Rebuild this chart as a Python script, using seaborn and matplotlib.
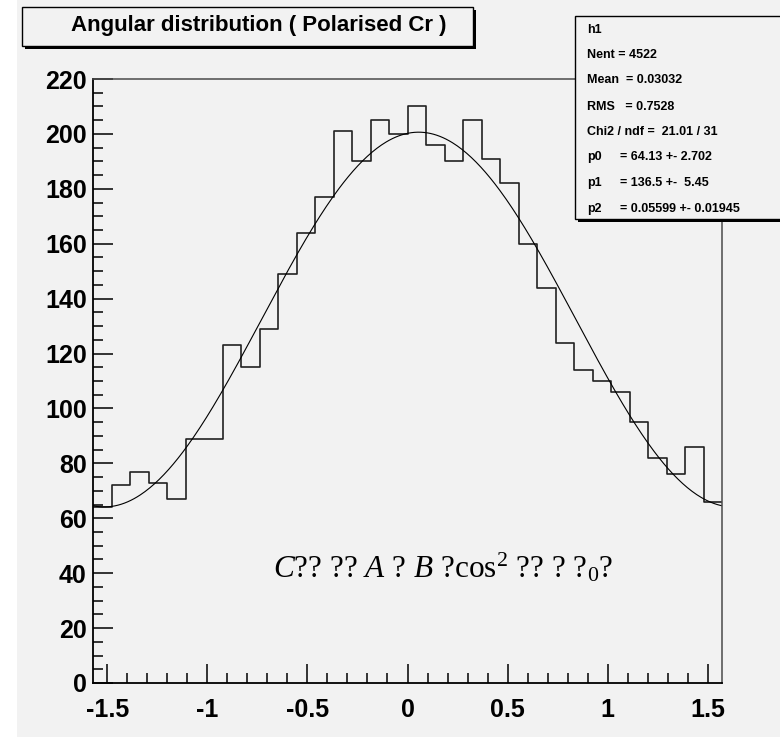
import numpy as np
import pandas as pd
import matplotlib
matplotlib.use("Agg")
import matplotlib.pyplot as plt
import seaborn as sns
from matplotlib.patches import Rectangle
from matplotlib.ticker import MultipleLocator

# ---------------- data ----------------
counts = [64, 72, 77, 73, 67, 89, 89, 123, 115, 129,
          149, 164, 177, 201, 190, 205, 200, 210, 196, 190,
          205, 191, 182, 160, 144, 124, 114, 110, 106, 95,
          82, 76, 86, 66]
x_min, x_max = -np.pi / 2, np.pi / 2
fit_p0, fit_p1, fit_p2 = 64.13, 136.5, 0.05599
title = "Angular distribution ( Polarised Cr )"
stats_names = ["h1", "Nent = 4522", "Mean  = 0.03032", "RMS   = 0.7528",
               "Chi2 / ndf =  21.01 / 31", "p0", "p1", "p2"]
stats_values = ["", "", "", "", "", "= 64.13 +- 2.702", "= 136.5 +-  5.45",
                "= 0.05599 +- 0.01945"]
x_ticks = [-1.5, -1, -0.5, 0, 0.5, 1, 1.5]
x_tick_labels = ["-1.5", "-1", "-0.5", "0", "0.5", "1", "1.5"]
y_ticks = [0, 20, 40, 60, 80, 100, 120, 140, 160, 180, 200, 220]
y_tick_labels = [str(v) for v in y_ticks]
formula = r"$C$?? ?? $A$ ? $B$ ?cos$^{2}$ ?? ? ?$_0$?"

# ---------------- style ----------------
W, H = 780, 737
bg = "#f2f2f2"
plt.rcParams["axes.unicode_minus"] = False
plt.rcParams["font.family"] = ["Liberation Sans", "DejaVu Sans"]
plt.rcParams["mathtext.fontset"] = "custom"
plt.rcParams["mathtext.rm"] = "Liberation Serif"
plt.rcParams["mathtext.it"] = "Liberation Serif:italic"


def fx(x):
    return x / W


def fy(y):
    return 1 - y / H


fig = plt.figure(figsize=(W / 100, H / 100), dpi=100, facecolor="white")
fig.patches.append(Rectangle((fx(17), 0), 1, 1, transform=fig.transFigure,
                             facecolor=bg, edgecolor="none", zorder=-10))

ax = fig.add_axes([fx(93), fy(683), (722 - 93) / W, (683 - 79) / H])
ax.set_facecolor(bg)

n_bins = len(counts)
bin_w = (x_max - x_min) / n_bins
centers = x_min + bin_w * (np.arange(n_bins) + 0.5)
hist_df = pd.DataFrame({"theta": centers, "count": counts})
sns.histplot(data=hist_df, x="theta", weights="count", bins=n_bins,
             binrange=(x_min, x_max), element="step", fill=False,
             color="#222222", linewidth=1.2, ax=ax)

xc = np.linspace(x_min, x_max, 400)
yc = fit_p0 + fit_p1 * np.cos(xc - fit_p2) ** 2
sns.lineplot(x=xc, y=yc, color="black", linewidth=0.8, ax=ax)

ax.set_xlim(x_min, x_max)
ax.set_ylim(0, 220)
ax.set_xlabel("")
ax.set_ylabel("")

for s in ["left", "bottom"]:
    ax.spines[s].set_color("black")
    ax.spines[s].set_linewidth(1.3)
for s in ["top", "right"]:
    ax.spines[s].set_color("#4a4a4a")
    ax.spines[s].set_linewidth(1.1)

ax.set_xticks(x_ticks, labels=x_tick_labels, fontsize=18, fontweight="bold")
ax.set_yticks(y_ticks, labels=y_tick_labels, fontsize=18, fontweight="bold")
ax.xaxis.set_minor_locator(MultipleLocator(0.1))
ax.yaxis.set_minor_locator(MultipleLocator(5))
ax.tick_params(axis="x", which="major", direction="in", length=13.7, width=1.1,
               top=False, pad=11, colors="black")
ax.tick_params(axis="x", which="minor", direction="in", length=7.2, width=1.1,
               top=False)
ax.tick_params(axis="y", which="major", direction="in", length=14.4, width=1.1,
               right=False, pad=4.5)
ax.tick_params(axis="y", which="minor", direction="in", length=7.2, width=1.1,
               right=False)

fig.text(fx(273), fy(578), formula, fontsize=22.5, family="Liberation Serif",
         ha="left", va="baseline")

# title box
fig.patches.append(Rectangle((fx(25), fy(49)), (473 - 22) / W, (49 - 10) / H,
                             transform=fig.transFigure, facecolor="black",
                             edgecolor="none", zorder=5))
fig.patches.append(Rectangle((fx(22), fy(46)), (473 - 22) / W, (46 - 7) / H,
                             transform=fig.transFigure, facecolor=bg,
                             edgecolor="black", linewidth=1.0, zorder=6))
fig.text(fx(259), fy(26), title, fontsize=16, fontweight="bold",
         ha="center", va="center", zorder=7)

# stats box
fig.patches.append(Rectangle((fx(578), fy(222)), (800 - 578) / W, (222 - 19) / H,
                             transform=fig.transFigure, facecolor="black",
                             edgecolor="none", zorder=5))
fig.patches.append(Rectangle((fx(575), fy(219)), (800 - 575) / W, (219 - 16) / H,
                             transform=fig.transFigure, facecolor=bg,
                             edgecolor="black", linewidth=1.0, zorder=6))
line_y = [30, 55, 80, 107, 132, 157, 183, 209]
for name, val, yy in zip(stats_names, stats_values, line_y):
    fig.text(fx(587), fy(yy), name, fontsize=9, fontweight="bold",
             ha="left", va="center", zorder=7)
    if val:
        fig.text(fx(620), fy(yy), val, fontsize=9, fontweight="bold",
                 ha="left", va="center", zorder=7)

fig.savefig("out.png", dpi=100, facecolor=fig.get_facecolor())
